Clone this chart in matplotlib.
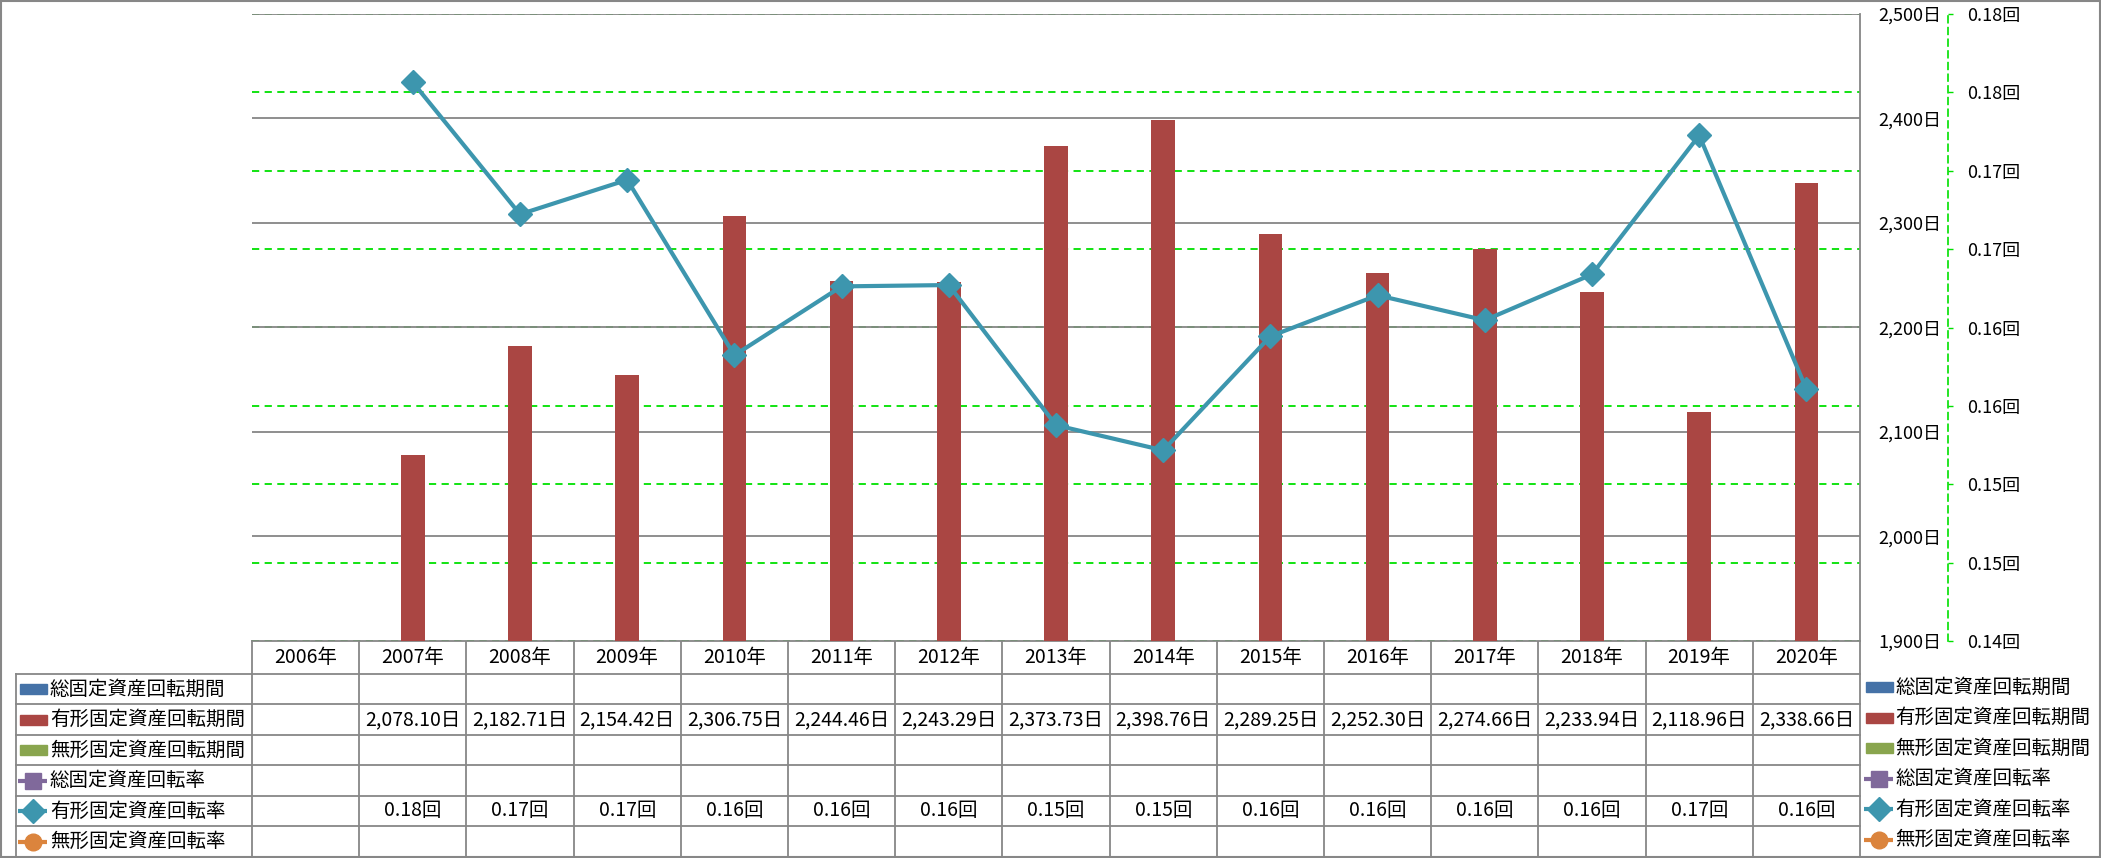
import matplotlib
matplotlib.use("Agg")
import matplotlib.pyplot as plt
import numpy as np
from matplotlib.patches import Rectangle

plt.rcParams["font.family"] = ["Noto Sans CJK JP", "DejaVu Sans"]

# data
years = ["2006年", "2007年", "2008年", "2009年", "2010年", "2011年", "2012年",
         "2013年", "2014年", "2015年", "2016年", "2017年", "2018年", "2019年", "2020年"]
tangible_days = [None, 2078.10, 2182.71, 2154.42, 2306.75, 2244.46, 2243.29,
                 2373.73, 2398.76, 2289.25, 2252.30, 2274.66, 2233.94, 2118.96, 2338.66]
tangible_rate = [None, 0.175642, 0.167223, 0.169419, 0.158231, 0.162623, 0.162708,
                 0.153767, 0.152163, 0.159441, 0.162056, 0.160463, 0.163389, 0.172255, 0.156073]
series_names = ["総固定資産回転期間", "有形固定資産回転期間", "無形固定資産回転期間",
                "総固定資産回転率", "有形固定資産回転率", "無形固定資産回転率"]
series_kind = ["bar", "bar", "bar", "line", "line", "line"]
series_marker = [None, None, None, "s", "D", "o"]
series_colors = ["#4572A7", "#AA4643", "#89A54E", "#80699B", "#3D96AE", "#DB843D"]
days_ticks = [1900, 2000, 2100, 2200, 2300, 2400, 2500]
rate_ticks = [0.14, 0.145, 0.15, 0.155, 0.16, 0.165, 0.17, 0.175, 0.18]
rate_tick_labels = ["0.14回", "0.15回", "0.15回", "0.16回", "0.16回",
                    "0.17回", "0.17回", "0.18回", "0.18回"]

W, H = 2101, 858
grid_gray = "#868686"
green = "#00E000"

fig = plt.figure(figsize=(W / 100, H / 100), dpi=100)

# overlay in pixel coords for table, legend and frame
ov = fig.add_axes([0, 0, 1, 1])
ov.set_xlim(0, W)
ov.set_ylim(H, 0)
ov.axis("off")

x0, x1, top, bot = 252, 1860, 14, 641
ax = fig.add_axes([x0 / W, 1 - bot / H, (x1 - x0) / W, (bot - top) / H])
ax2 = ax.twinx()
ax.set_xlim(-0.5, len(years) - 0.5)
ax.set_ylim(days_ticks[0], days_ticks[-1])

# green secondary gridlines (behind), gray primary gridlines
for v in np.linspace(days_ticks[0], days_ticks[-1], len(rate_ticks)):
    ax.axhline(v, color=green, lw=1.3, ls=(0, (4, 3)), zorder=1)
for v in days_ticks:
    ax.axhline(v, color=grid_gray, lw=1.3, zorder=1.5)

idx = [i for i, v in enumerate(tangible_days) if v is not None]
ax.bar(idx, [tangible_days[i] for i in idx], width=0.22,
       color=series_colors[1], zorder=3)

for s in ["left", "top", "bottom"]:
    ax.spines[s].set_visible(False)
ax.spines["right"].set_color(grid_gray)
ax.spines["right"].set_linewidth(1.3)
ax.set_xticks([])
ax.set_yticks(days_ticks)
ax.set_yticklabels([f"{v:,}日" for v in days_ticks], fontsize=13)
ax.yaxis.tick_right()
ax.tick_params(axis="y", which="both", left=False, labelleft=False,
               right=True, labelright=True, length=0, pad=13)

ax2.set_ylim(rate_ticks[0], rate_ticks[-1])
for s in ["left", "top", "bottom"]:
    ax2.spines[s].set_visible(False)
ax2.spines["right"].set_position(("outward", 63.4))
ax2.spines["right"].set_color(green)
ax2.spines["right"].set_linestyle((0, (4, 3)))
ax2.spines["right"].set_linewidth(1.2)
ax2.set_yticks(rate_ticks)
ax2.set_yticklabels(rate_tick_labels, fontsize=13)
ax2.tick_params(axis="y", length=3.6, width=1, color=green, pad=10)
ax2.plot(idx, [tangible_rate[i] for i in idx], color=series_colors[4], lw=3,
         marker="D", ms=12, zorder=5, clip_on=False)

# data table
colw = (x1 - x0) / len(years)
line_kw = dict(color="#878787", lw=1.3)
row_edges = [674, 704, 735, 765, 796, 826, 857]
ov.plot([x0, x1], [bot, bot], **line_kw)
ov.plot([16, x1], [row_edges[0], row_edges[0]], **line_kw)
for y in row_edges[1:-1]:
    ov.plot([16, x1], [y, y], **line_kw)
ov.plot([16, 16], [row_edges[0], row_edges[-1]], **line_kw)
for j in range(len(years) + 1):
    xx = x0 + j * colw
    ov.plot([xx, xx], [bot, row_edges[-1]], **line_kw)
for j, yr in enumerate(years):
    ov.text(x0 + (j + 0.5) * colw, (bot + row_edges[0]) / 2, yr,
            ha="center", va="center", fontsize=14)

row_vals = {1: [None if v is None else f"{v:,.2f}日" for v in tangible_days],
            4: [None if v is None else f"{v:.2f}回" for v in tangible_rate]}


def legend_key(xl, xr, yc, k):
    c = series_colors[k]
    if series_kind[k] == "bar":
        ov.add_patch(Rectangle((xl + 2, yc - 5), xr - xl - 2, 10, color=c))
    else:
        ov.plot([xl, xr], [yc, yc], color=c, lw=3, solid_capstyle="butt")
        ov.plot([(xl + xr) / 2], [yc], marker=series_marker[k], ms=12, color=c)


for k, name in enumerate(series_names):
    yc = (row_edges[k] + row_edges[k + 1]) / 2
    legend_key(18, 47, yc, k)
    ov.text(50, yc, name, ha="left", va="center", fontsize=14)
    if k in row_vals:
        for j, t in enumerate(row_vals[k]):
            if t is not None:
                ov.text(x0 + (j + 0.5) * colw, yc, t, ha="center",
                        va="center", fontsize=14)
    # right legend
    legend_key(1864, 1893, yc - 2, k)
    ov.text(1895, yc - 2, name, ha="left", va="center", fontsize=14)

# outer frame
ov.add_patch(Rectangle((1, 1), W - 2, H - 2, fill=False, ec="#878787", lw=1.5))

fig.savefig("out.png", dpi=100)
